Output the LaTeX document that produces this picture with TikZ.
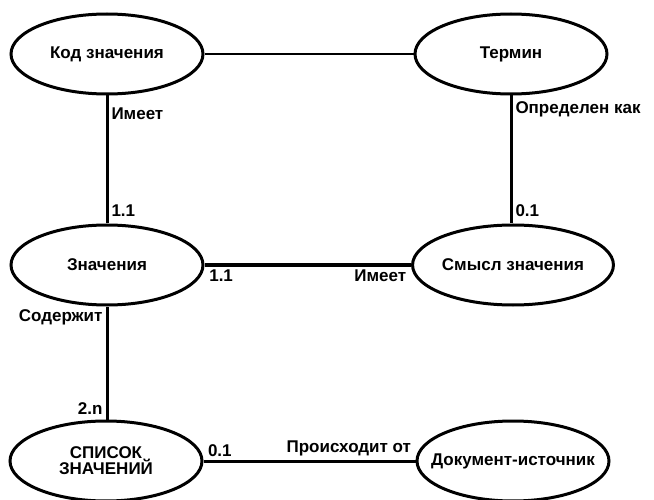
\documentclass[tikz,border=0pt]{standalone}
\usepackage{fontspec}
\setmainfont{Liberation Sans}
\usetikzlibrary{shapes.geometric}

\begin{document}
\begin{tikzpicture}[x=1pt,y=1pt,font=\fontsize{17}{17}\selectfont\bfseries,
    entity/.style={ellipse,draw,line width=3pt,minimum width=192pt,minimum height=80pt,inner sep=0pt,align=center},
    link/.style={line width=3pt},
    card/.style={inner sep=3pt}]

    \useasboundingbox (0,0) rectangle (654,499);

    % Entities
    \node [entity] (kod) at (107,445) {Код значения};
    \node [entity] (termin) at (511,445) {Термин};
    \node [entity] (znach) at (107,234) {Значения};
    \node [entity] (smysl) at (513,234) {Смысл значения};
    \node [entity] (spisok) at (106,38) {СПИСОК\\[-1pt]ЗНАЧЕНИЙ};
    \node [entity,inner xsep=-16pt] (dok) at (513,38) {Документ-источник};

    % Top link
    \draw [line width=2pt] (kod) -- (termin);

    % Code value -- value
    \draw [link] (kod.south) -- (kod.south |- znach.north)
        node [card,pos=0.14,right] {Имеет}
        node [card,pos=0.9,right] {1.1};

    % Term -- meaning
    \draw [link] (termin.south) -- (termin.south |- smysl.north)
        node [card,pos=0.11,right] {Определен как}
        node [card,pos=0.9,right] {0.1};

    % Value -- meaning
    \draw [link,line width=3.6pt] (znach.east) -- (smysl.west)
        node [card,pos=0,below right] {1.1}
        node [card,pos=1,below left] {Имеет};

    % Value -- list
    \draw [link] (znach.south) -- (spisok.north -| znach.south)
        node [card,pos=0.1,left] {Содержит}
        node [card,pos=0.9,left] {2.n};

    % List -- source document
    \draw [link] (spisok.east) -- (dok.west)
        node [card,pos=0,above right] {0.1}
        node [card,pos=1,above left] {Происходит от};

\end{tikzpicture}
\end{document}
